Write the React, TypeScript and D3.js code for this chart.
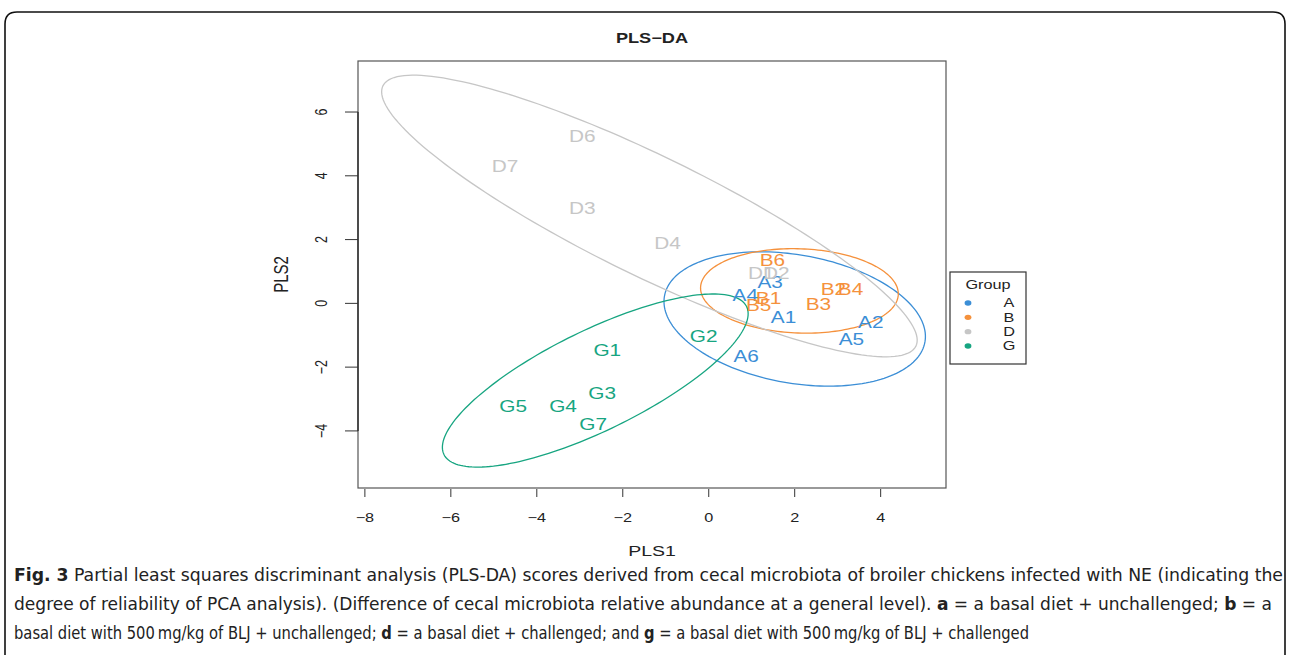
import React from "react";
import * as d3 from "d3";

// ---------- data ----------
const groups = ["A", "B", "D", "G"];
const groupColors = ["#3B8ED6", "#F5913C", "#C6C6C6", "#17A581"];

const sampleNames = ["A1", "A2", "A3", "A4", "A5", "A6", "B1", "B2", "B3", "B4", "B5", "B6", "D1", "D2", "D3", "D4", "D6", "D7", "G1", "G2", "G3", "G4", "G5", "G7"];
const sampleGroup = ["A", "A", "A", "A", "A", "A", "B", "B", "B", "B", "B", "B", "D", "D", "D", "D", "D", "D", "G", "G", "G", "G", "G", "G"];
const pls1 = [1.74, 3.77, 1.43, 0.85, 3.32, 0.87, 1.39, 2.9, 2.55, 3.3, 1.16, 1.48, 1.22, 1.57, -2.94, -0.96, -2.94, -4.74, -2.36, -0.12, -2.48, -3.39, -4.55, -2.69];
const pls2 = [-0.43, -0.61, 0.67, 0.26, -1.12, -1.65, 0.17, 0.45, -0.02, 0.45, -0.05, 1.35, 0.94, 0.94, 2.99, 1.87, 5.25, 4.3, -1.49, -1.05, -2.81, -3.24, -3.24, -3.81];

// confidence ellipses per group: centre and two conjugate semi-axes (data units)
const ellipseCx = [2.0, 2.11, -1.38, -2.64];
const ellipseCy = [-0.49, 0.39, 2.74, -2.42];
const ellipseAx = [3.03, 2.3, 6.2, 3.52];
const ellipseAy = [-0.72, -0.11, -4.08, 2.32];
const ellipseBx = [-0.26, -0.034, -0.61, 0.51];
const ellipseBy = [-1.98, -1.32, -1.69, -1.41];

const xTicks = [-8, -6, -4, -2, 0, 2, 4];
const yTicks = [-4, -2, 0, 2, 4, 6];

const title = "PLS\u2212DA";
const xTitle = "PLS1";
const yTitle = "PLS2";
const legendTitle = "Group";

const captionLines = [
  [["Fig. 3", true], [" Partial least squares discriminant analysis (PLS-DA) scores derived from cecal microbiota of broiler chickens infected with NE (indicating the", false]],
  [["degree of reliability of PCA analysis). (Difference of cecal microbiota relative abundance at a general level). ", false], ["a", true], [" = a basal diet + unchallenged; ", false], ["b", true], [" = a", false]],
  [["basal diet with 500\u2009mg/kg of BLJ + unchallenged; ", false], ["d", true], [" = a basal diet + challenged; and ", false], ["g", true], [" = a basal diet with 500\u2009mg/kg of BLJ + challenged", false]],
] as [string, boolean][][];

// ---------- layout ----------
const W = 1290;
const H = 655;
const box = { left: 358, right: 946, top: 61, bottom: 488 };
const SX = 1.3; // horizontal stretch of the original figure's text
const FONT = "'Liberation Sans', Arial, Helvetica, sans-serif";

function SText(props: { x: number; y: number; size: number; fill?: string; bold?: boolean; anchor?: string; rotate?: number; children: React.ReactNode }) {
  const { x, y, size, fill = "#222", bold, anchor = "middle", rotate, children } = props;
  const tf = rotate ? `translate(${x},${y}) rotate(${rotate}) scale(1,${SX})` : `translate(${x},${y}) scale(${SX},1)`;
  return (
    <text transform={tf} fontSize={size} fontFamily={FONT} fontWeight={bold ? "bold" : "normal"} fill={fill} textAnchor={anchor} dominantBaseline="central">
      {children}
    </text>
  );
}

export default function App() {
  const x = d3.scaleLinear().domain([-8.16, 5.52]).range([box.left, box.right]);
  const y = d3.scaleLinear().domain([-5.79, 7.6]).range([box.bottom, box.top]);
  const color = d3.scaleOrdinal<string, string>().domain(groups).range(groupColors);

  const line = d3.line<[number, number]>().x((d) => x(d[0])).y((d) => y(d[1])).curve(d3.curveLinearClosed);
  const ts = d3.range(0, 2 * Math.PI, Math.PI / 90);

  const ellipses = groups.map((g, i) => {
    const pts: [number, number][] = ts.map((t) => [
      ellipseCx[i] + Math.cos(t) * ellipseAx[i] + Math.sin(t) * ellipseBx[i],
      ellipseCy[i] + Math.cos(t) * ellipseAy[i] + Math.sin(t) * ellipseBy[i],
    ]);
    return <path key={g} d={line(pts) || ""} fill="none" stroke={color(g)} strokeWidth={1.3} />;
  });

  const legendY = d3.scalePoint<string>().domain(groups).range([303, 346]);

  return (
    <svg width={W} height={H} style={{ position: "absolute", left: 0, top: 0, background: "#fff" }}>
      {/* outer frame */}
      <path d={`M5,${H + 10} L5,24 Q5,12 17,12 L1273,12 Q1285,12 1285,24 L1285,${H + 10}`} fill="none" stroke="#111" strokeWidth={1.6} />

      <SText x={(box.left + box.right) / 2} y={38} size={14} bold>{title}</SText>

      {ellipses}

      {sampleNames.map((n, i) => (
        <SText key={n} x={x(pls1[i])} y={y(pls2[i])} size={16} fill={color(sampleGroup[i])}>{n}</SText>
      ))}

      {/* plot box */}
      <rect x={box.left} y={box.top} width={box.right - box.left} height={box.bottom - box.top} fill="none" stroke="#555" strokeWidth={1.2} />

      {/* y axis */}
      <line x1={box.left} x2={box.left} y1={y(yTicks[yTicks.length - 1])} y2={y(yTicks[0])} stroke="#222" strokeWidth={1.3} />
      {yTicks.map((t) => (
        <g key={t}>
          <line x1={box.left - 13} x2={box.left} y1={y(t)} y2={y(t)} stroke="#333" strokeWidth={1} />
          <SText x={321} y={y(t)} size={12.5} rotate={-90}>{t < 0 ? `\u2212${-t}` : `${t}`}</SText>
        </g>
      ))}
      <SText x={281} y={(box.top + box.bottom) / 2} size={15} rotate={-90}>{yTitle}</SText>

      {/* x axis */}
      {xTicks.map((t) => (
        <g key={t}>
          <line x1={x(t)} x2={x(t)} y1={box.bottom + 1} y2={box.bottom + 9} stroke="#333" strokeWidth={1} />
          <SText x={x(t)} y={518} size={12.5}>{t < 0 ? `\u2212${-t}` : `${t}`}</SText>
        </g>
      ))}
      <SText x={(box.left + box.right) / 2} y={551} size={15}>{xTitle}</SText>

      {/* legend */}
      <rect x={950} y={272} width={76} height={92} fill="#fff" stroke="#333" strokeWidth={1.2} />
      <SText x={988} y={285} size={12.5}>{legendTitle}</SText>
      {groups.map((g) => (
        <g key={g}>
          <ellipse cx={968} cy={legendY(g)!} rx={3.4} ry={2.7} fill={color(g)} />
          <SText x={1009} y={legendY(g)!} size={12.5}>{g}</SText>
        </g>
      ))}

      {/* caption */}
      {captionLines.map((segs, li) => (
        <text key={li} x={14} y={581 + li * 29} fontSize={18} fill="#222"
          fontFamily="'DejaVu Sans Condensed', 'Liberation Sans Narrow', 'Liberation Sans', sans-serif"
          fontStretch="condensed"
          textLength={[1269, 1258, 1015][li]} lengthAdjust="spacingAndGlyphs">
          {segs.map(([s, b], k) => (
            <tspan key={k} fontWeight={b ? "bold" : "normal"} xmlSpace="preserve">{s}</tspan>
          ))}
        </text>
      ))}
    </svg>
  );
}
